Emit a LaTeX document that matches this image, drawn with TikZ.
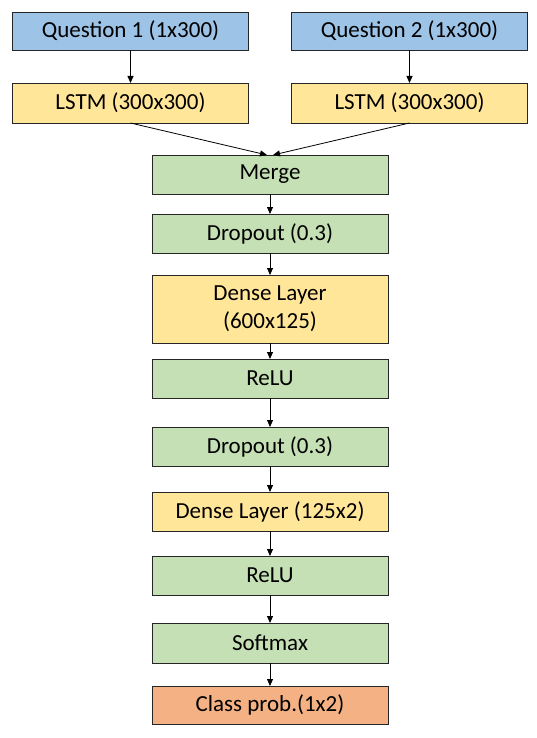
\documentclass[tikz,border=0pt]{standalone}
\usepackage{fontspec}
\setmainfont{Carlito}
\usetikzlibrary{positioning,arrows.meta}

\definecolor{inblue}{HTML}{9DC3E6}
\definecolor{layyellow}{HTML}{FFE699}
\definecolor{opgreen}{HTML}{C5E0B4}
\definecolor{outorange}{HTML}{F4B183}

\begin{document}
\begin{tikzpicture}[
        x=1pt,y=1pt,
        box/.style={draw=black!85,line width=0.8pt,minimum width=236pt,minimum height=39pt,
            inner sep=0pt,outer sep=0pt,align=center,font=\fontsize{23}{28}\selectfont},
        inbox/.style={box,fill=inblue,minimum height=38pt},
        densebox/.style={box,fill=layyellow},
        opbox/.style={box,fill=opgreen},
        outbox/.style={box,fill=outorange,minimum height=38pt},
        conn/.style={-{Triangle[length=7pt,width=6pt]},line width=0.8pt}
    ]
    \useasboundingbox (0,0) rectangle (537,-738);

    % inputs
    \node [inbox] (q1) at (130.5,-31) {Question 1 (1x300)};
    \node [inbox] (q2) at (409.5,-31) {Question 2 (1x300)};
    \node [densebox,minimum height=40pt,below=33pt of q1] (lstm1) {LSTM (300x300)};
    \node [densebox,minimum height=40pt,below=33pt of q2] (lstm2) {LSTM (300x300)};

    % main stack
    \node [opbox] (merge) at (270,-174.5) {Merge};
    \node [opbox,below=20pt of merge] (drop1) {Dropout (0.3)};
    \node [densebox,minimum height=68pt,below=22pt of drop1] (dense1) {Dense Layer\\(600x125)};
    \node [opbox,below=16pt of dense1] (relu1) {ReLU};
    \node [opbox,below=29pt of relu1] (drop2) {Dropout (0.3)};
    \node [densebox,below=26pt of drop2] (dense2) {Dense Layer (125x2)};
    \node [opbox,below=25pt of dense2] (relu2) {ReLU};
    \node [opbox,minimum height=40pt,below=28pt of relu2] (soft) {Softmax};
    \node [outbox,below=23pt of soft] (prob) {Class prob.(1x2)};

    \draw [conn] (q1) -- (lstm1);
    \draw [conn] (q2) -- (lstm2);
    \draw [conn] (lstm1.south) -- ([xshift=-3pt]merge.north);
    \draw [conn] (lstm2.south) -- ([xshift=3pt]merge.north);
    \draw [conn] (merge) -- (drop1);
    \draw [conn] (drop1) -- (dense1);
    \draw [conn] (dense1) -- (relu1);
    \draw [conn] (relu1) -- (drop2);
    \draw [conn] (drop2) -- (dense2);
    \draw [conn] (dense2) -- (relu2);
    \draw [conn] (relu2) -- (soft);
    \draw [conn] (soft) -- (prob);
\end{tikzpicture}
\end{document}
